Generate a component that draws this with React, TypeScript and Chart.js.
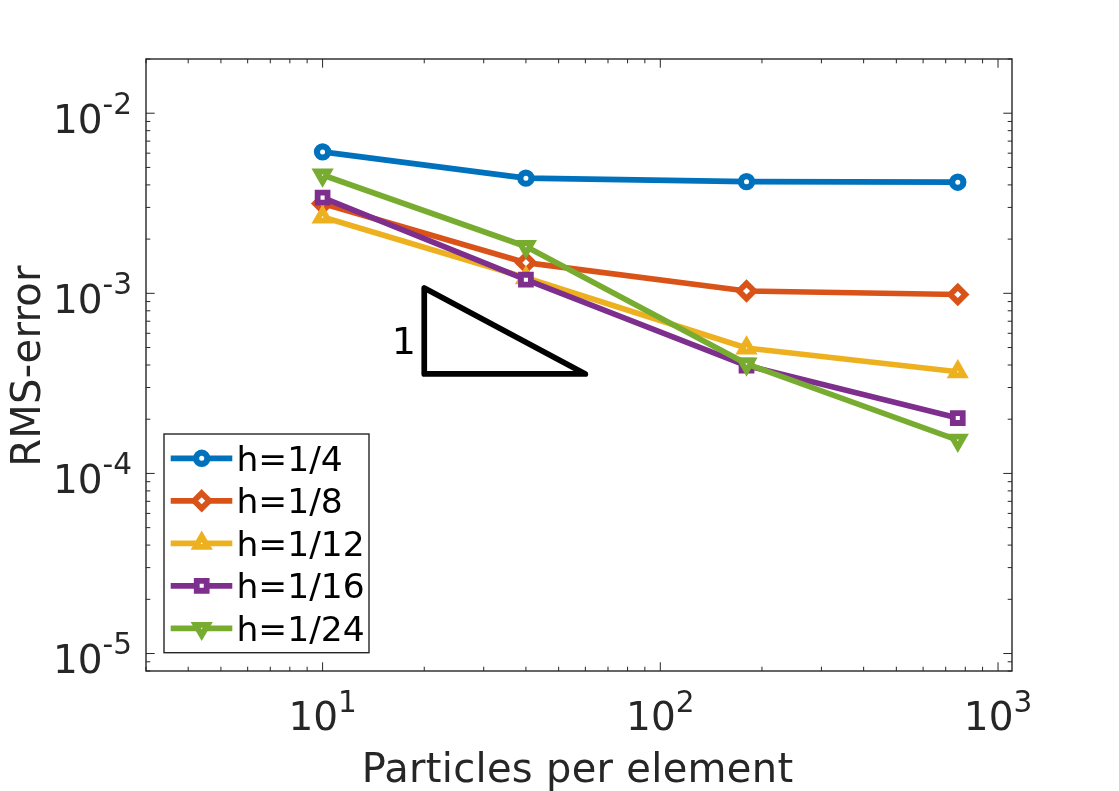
import React, { useEffect, useRef } from "react";
import { Chart, registerables } from "chart.js";

Chart.register(...registerables);

// Particles per element (x) and RMS error per mesh size (y)
const particlesPerElement = [10, 40, 180, 760];
const seriesLabels = ["h=1/4", "h=1/8", "h=1/12", "h=1/16", "h=1/24"];
const rmsH4 = [6.1e-3, 4.36e-3, 4.17e-3, 4.14e-3];
const rmsH8 = [3.15e-3, 1.48e-3, 1.03e-3, 0.985e-3];
const rmsH12 = [2.65e-3, 1.22e-3, 4.97e-4, 3.67e-4];
const rmsH16 = [3.4e-3, 1.19e-3, 3.97e-4, 2.03e-4];
const rmsH24 = [4.54e-3, 1.82e-3, 4.06e-4, 1.53e-4];
const seriesValues = [rmsH4, rmsH8, rmsH12, rmsH16, rmsH24];
const seriesColors = ["#0072BD", "#D95319", "#EDB120", "#7E2F8E", "#77AC30"];
const seriesMarkers = ["circle", "rectRot", "triangle", "rect", "triangle"];
const seriesMarkerRotation = [0, 0, 0, 0, 180];

// Slope-1 reference triangle
const slopeX = [20, 20, 60, 20];
const slopeY = [1.07e-3, 3.57e-4, 3.57e-4, 1.07e-3];
const slopeLabel = "1";
const slopeLabelX = 17.4;
const slopeLabelY = 5.2e-4;

// Axis limits and decade tick labels
const xMin = 3;
const xMax = 1100;
const yMin = 8e-6;
const yMax = 2e-2;
const xTickValues = [10, 100, 1000];
const xTickExponents = ["1", "2", "3"];
const yTickValues = [1e-2, 1e-3, 1e-4, 1e-5];
const yTickExponents = ["-2", "-3", "-4", "-5"];
const xTitle = "Particles per element";
const yTitle = "RMS-error";

const FONT = '"DejaVu Sans", sans-serif';
const INK = "#262626";
const LINE_W = 5.7;

function minorTicks(lo: number, hi: number, fromExp: number, toExp: number) {
  const out: number[] = [];
  for (let e = fromExp; e <= toExp; e++) {
    const d = Math.pow(10, e);
    for (let m = 2; m <= 9; m++) {
      const v = m * d;
      if (v >= lo * 0.9999 && v <= hi * 1.0001) out.push(v);
    }
  }
  return out;
}

function markerPath(ctx: CanvasRenderingContext2D, style: string, rotation: number, x: number, y: number, r: number) {
  ctx.beginPath();
  if (style === "circle") {
    ctx.arc(x, y, r, 0, Math.PI * 2);
  } else if (style === "rectRot") {
    ctx.moveTo(x, y - r);
    ctx.lineTo(x + r, y);
    ctx.lineTo(x, y + r);
    ctx.lineTo(x - r, y);
    ctx.closePath();
  } else if (style === "rect") {
    const s = r * Math.SQRT1_2;
    ctx.rect(x - s, y - s, 2 * s, 2 * s);
  } else {
    let rad = (rotation * Math.PI) / 180;
    ctx.moveTo(x + Math.sin(rad) * r, y - Math.cos(rad) * r);
    rad += (2 * Math.PI) / 3;
    ctx.lineTo(x + Math.sin(rad) * r, y - Math.cos(rad) * r);
    rad += (2 * Math.PI) / 3;
    ctx.lineTo(x + Math.sin(rad) * r, y - Math.cos(rad) * r);
    ctx.closePath();
  }
}

const markerRadius = (style: string) =>
  style === "circle" ? 5.6 : style === "rect" ? 7 : style === "rectRot" ? 7.6 : 7;
const markerBorder = (style: string) => (style === "circle" ? 6.2 : 5.8);

const axesPlugin = {
  id: "matlabAxes",
  beforeDatasetsDraw(chart: any) {
    const { ctx, chartArea: a, scales } = chart;
    const xs = scales.x;
    const ys = scales.y;
    ctx.save();
    ctx.strokeStyle = INK;
    ctx.lineWidth = 1;
    const major = 8.7;
    const minor = 4.3;
    const vTick = (px: number, len: number) => {
      ctx.beginPath();
      ctx.moveTo(px, a.bottom);
      ctx.lineTo(px, a.bottom - len);
      ctx.moveTo(px, a.top);
      ctx.lineTo(px, a.top + len);
      ctx.stroke();
    };
    const hTick = (py: number, len: number) => {
      ctx.beginPath();
      ctx.moveTo(a.left, py);
      ctx.lineTo(a.left + len, py);
      ctx.moveTo(a.right, py);
      ctx.lineTo(a.right - len, py);
      ctx.stroke();
    };
    minorTicks(xMin, xMax, 0, 3).forEach((v) => vTick(xs.getPixelForValue(v), minor));
    xTickValues.forEach((v) => vTick(xs.getPixelForValue(v), major));
    minorTicks(yMin, yMax, -6, -2).forEach((v) => hTick(ys.getPixelForValue(v), minor));
    yTickValues.forEach((v) => hTick(ys.getPixelForValue(v), major));
    ctx.lineWidth = 1.4;
    ctx.strokeRect(a.left, a.top, a.right - a.left, a.bottom - a.top);
    ctx.restore();
  },
  afterDraw(chart: any) {
    const { ctx, chartArea: a, scales } = chart;
    const xs = scales.x;
    const ys = scales.y;
    const mainSize = 39;
    const supSize = 29.5;
    ctx.save();
    ctx.fillStyle = INK;
    ctx.textBaseline = "alphabetic";
    ctx.textAlign = "left";

    // x decade labels
    xTickValues.forEach((v, i) => {
      const px = xs.getPixelForValue(v);
      ctx.font = `${mainSize}px ${FONT}`;
      const w1 = ctx.measureText("10").width;
      ctx.font = `${supSize}px ${FONT}`;
      const w2 = ctx.measureText(xTickExponents[i]).width;
      const start = px - (w1 + w2) / 2;
      ctx.font = `${mainSize}px ${FONT}`;
      ctx.fillText("10", start, a.bottom + 59);
      ctx.font = `${supSize}px ${FONT}`;
      ctx.fillText(xTickExponents[i], start + w1, a.bottom + 40.5);
    });

    // y decade labels
    yTickValues.forEach((v, i) => {
      const py = ys.getPixelForValue(v);
      ctx.font = `${mainSize}px ${FONT}`;
      const w1 = ctx.measureText("10").width;
      ctx.font = `${supSize}px ${FONT}`;
      const w2 = ctx.measureText(yTickExponents[i]).width;
      const start = a.left - 14 - (w1 + w2);
      ctx.font = `${mainSize}px ${FONT}`;
      ctx.fillText("10", start, py + 19.3);
      ctx.font = `${supSize}px ${FONT}`;
      ctx.fillText(yTickExponents[i], start + w1, py + 0.3);
    });

    // axis titles
    ctx.font = `40px ${FONT}`;
    ctx.textAlign = "center";
    (ctx as any).letterSpacing = "0.3px";
    ctx.fillText(xTitle, (a.left + a.right) / 2 - 1.5, a.bottom + 110.7);
    ctx.save();
    ctx.translate(40, (a.top + a.bottom) / 2 + 1);
    ctx.rotate(-Math.PI / 2);
    ctx.fillText(yTitle, 0, 0);
    ctx.restore();
    (ctx as any).letterSpacing = "0px";

    // slope label
    ctx.fillStyle = "#000";
    ctx.font = `38px ${FONT}`;
    ctx.textAlign = "center";
    ctx.textBaseline = "middle";
    ctx.fillText(slopeLabel, xs.getPixelForValue(slopeLabelX), ys.getPixelForValue(slopeLabelY));

    // legend
    const lx0 = 164;
    const lx1 = 369;
    const ly0 = 434;
    const ly1 = 652.7;
    ctx.fillStyle = "#fff";
    ctx.fillRect(lx0, ly0, lx1 - lx0, ly1 - ly0);
    ctx.strokeStyle = INK;
    ctx.lineWidth = 1.4;
    ctx.strokeRect(lx0, ly0, lx1 - lx0, ly1 - ly0);
    seriesLabels.forEach((label, i) => {
      const yc = 458.3 + i * 42.5;
      const style = seriesMarkers[i];
      ctx.strokeStyle = seriesColors[i];
      ctx.lineWidth = LINE_W;
      ctx.lineCap = "butt";
      ctx.beginPath();
      ctx.moveTo(170.7, yc);
      ctx.lineTo(232.3, yc);
      ctx.stroke();
      ctx.fillStyle = "#fff";
      ctx.lineWidth = markerBorder(style);
      ctx.lineJoin = "miter";
      markerPath(ctx, style, seriesMarkerRotation[i], 201.7, yc, markerRadius(style));
      ctx.fill();
      ctx.stroke();
      ctx.fillStyle = "#000";
      ctx.font = `34.5px ${FONT}`;
      ctx.textAlign = "left";
      ctx.textBaseline = "alphabetic";
      ctx.fillText(label, 236.5, yc + 12.3);
    });
    ctx.restore();
  },
};

export default function App() {
  const canvasRef = useRef<HTMLCanvasElement | null>(null);

  useEffect(() => {
    const canvas = canvasRef.current;
    if (!canvas) return;
    const datasets: any[] = seriesValues.map((vals, i) => ({
      type: "line",
      label: seriesLabels[i],
      data: particlesPerElement.map((x, j) => ({ x, y: vals[j] })),
      borderColor: seriesColors[i],
      backgroundColor: seriesColors[i],
      borderWidth: LINE_W,
      borderJoinStyle: "round",
      tension: 0,
      pointStyle: seriesMarkers[i],
      pointRotation: seriesMarkerRotation[i],
      pointRadius: markerRadius(seriesMarkers[i]),
      pointHoverRadius: markerRadius(seriesMarkers[i]),
      pointBorderWidth: markerBorder(seriesMarkers[i]),
      pointBorderColor: seriesColors[i],
      pointBackgroundColor: "#ffffff",
      order: seriesValues.length - i,
      clip: false,
    }));
    datasets.push({
      type: "line",
      label: "slope",
      data: slopeX.map((x, j) => ({ x, y: slopeY[j] })),
      borderColor: "#000000",
      borderWidth: LINE_W,
      borderJoinStyle: "round",
      borderCapStyle: "round",
      pointRadius: 0,
      tension: 0,
      order: 0,
      clip: false,
    });

    const chart = new Chart(canvas, {
      type: "line",
      data: { datasets },
      options: {
        responsive: false,
        animation: false,
        events: [],
        layout: { padding: { left: 146, top: 59, right: 107, bottom: 120 } },
        plugins: {
          legend: { display: false },
          tooltip: { enabled: false },
          title: { display: false },
        },
        scales: {
          x: { type: "logarithmic", min: xMin, max: xMax, display: false },
          y: { type: "logarithmic", min: yMin, max: yMax, display: false },
        },
      },
      plugins: [axesPlugin],
    });
    return () => chart.destroy();
  }, []);

  return (
    <div style={{ position: "fixed", left: 0, top: 0, width: 1119, height: 791, background: "#fff" }}>
      <canvas ref={canvasRef} width={1119} height={791} style={{ display: "block" }} />
    </div>
  );
}
